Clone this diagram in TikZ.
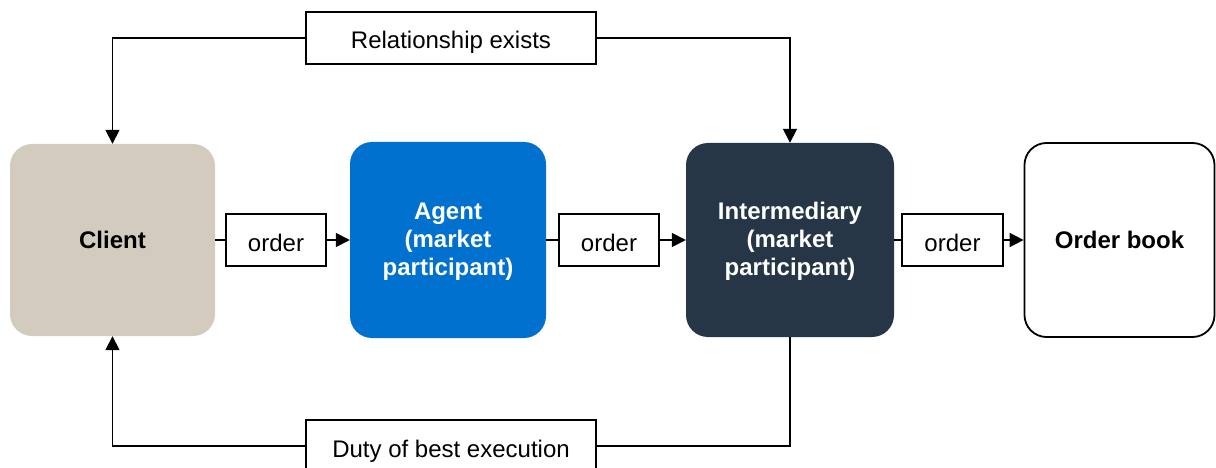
\documentclass[tikz,border=0pt]{standalone}
\usepackage{fontspec}
\setmainfont{Liberation Sans}
\usetikzlibrary{arrows.meta}
\definecolor{clientfill}{HTML}{D3CCBE}
\definecolor{agentblue}{HTML}{0071CE}
\definecolor{navy}{HTML}{263646}
% three-line party names, top-aligned so the node box can be sized by hand
\newcommand{\partyname}[1]{{\setlength{\tabcolsep}{0pt}\begin{tabular}[t]{c}#1\end{tabular}}}
\begin{document}
\begin{tikzpicture}[x=1pt,y=-1pt,
  font=\fontsize{24}{28}\selectfont,
  entity/.style={rounded corners=22pt, align=center, inner sep=0pt,
    font=\bfseries\fontsize{24}{28}\selectfont},
  threeline/.style={text height=21.6pt, text depth=62.4pt},
  tag/.style={draw, line width=1.6pt, fill=white, inner sep=0pt,
    minimum height=52pt, text height=22pt, text depth=0pt},
  link/.style={line width=1.7pt},
  conn/.style={link, -{Triangle[length=14pt,width=14pt]}}]
  \useasboundingbox (0,0) rectangle (1216,468);
  \clip (0,0) rectangle (1216,468);

  % main chain of parties
  \node[entity, fill=clientfill, minimum width=205pt, minimum height=192pt]
    (client) at (112.5,240) {Client};
  \node[entity, threeline, fill=agentblue, text=white, minimum width=196pt, minimum height=196pt]
    (agent) at (448,240) {\partyname{Agent\\(market\\participant)}};
  \node[entity, threeline, fill=navy, text=white, minimum width=208pt, minimum height=194pt]
    (inter) at (790,240) {\partyname{Intermediary\\(market\\participant)}};
  \node[entity, draw, line width=1.8pt, fill=white, minimum width=190pt, minimum height=194pt]
    (book) at (1119.5,240) {Order book};

  % labels on the order flow
  \node[tag, minimum width=100pt] (o1) at (276,240) {order};
  \node[tag, minimum width=100pt] (o2) at (609,240) {order};
  \node[tag, minimum width=101pt] (o3) at (952.5,240) {order};

  % relationship labels above and below
  \node[tag, minimum width=290pt] (rel) at (451,38) {Relationship exists};
  \node[tag, minimum width=290pt] (duty) at (451,446) {Duty of best execution};

  % order flow
  \draw[link] (client.east) -- (o1.west);
  \draw[conn] (o1.east) -- (agent.west);
  \draw[link] (agent.east) -- (o2.west);
  \draw[conn] (o2.east) -- (inter.west);
  \draw[link] (inter.east) -- (o3.west);
  \draw[conn] (o3.east) -- (book.west);

  % relationship between client and intermediary
  \draw[conn] (rel.west) -| (client.north);
  \draw[conn] (rel.east) -| (inter.north);

  % duty of best execution back to the client
  \draw[link] (inter.south) |- (duty.east);
  \draw[conn] (duty.west) -| (client.south);
\end{tikzpicture}
\end{document}
